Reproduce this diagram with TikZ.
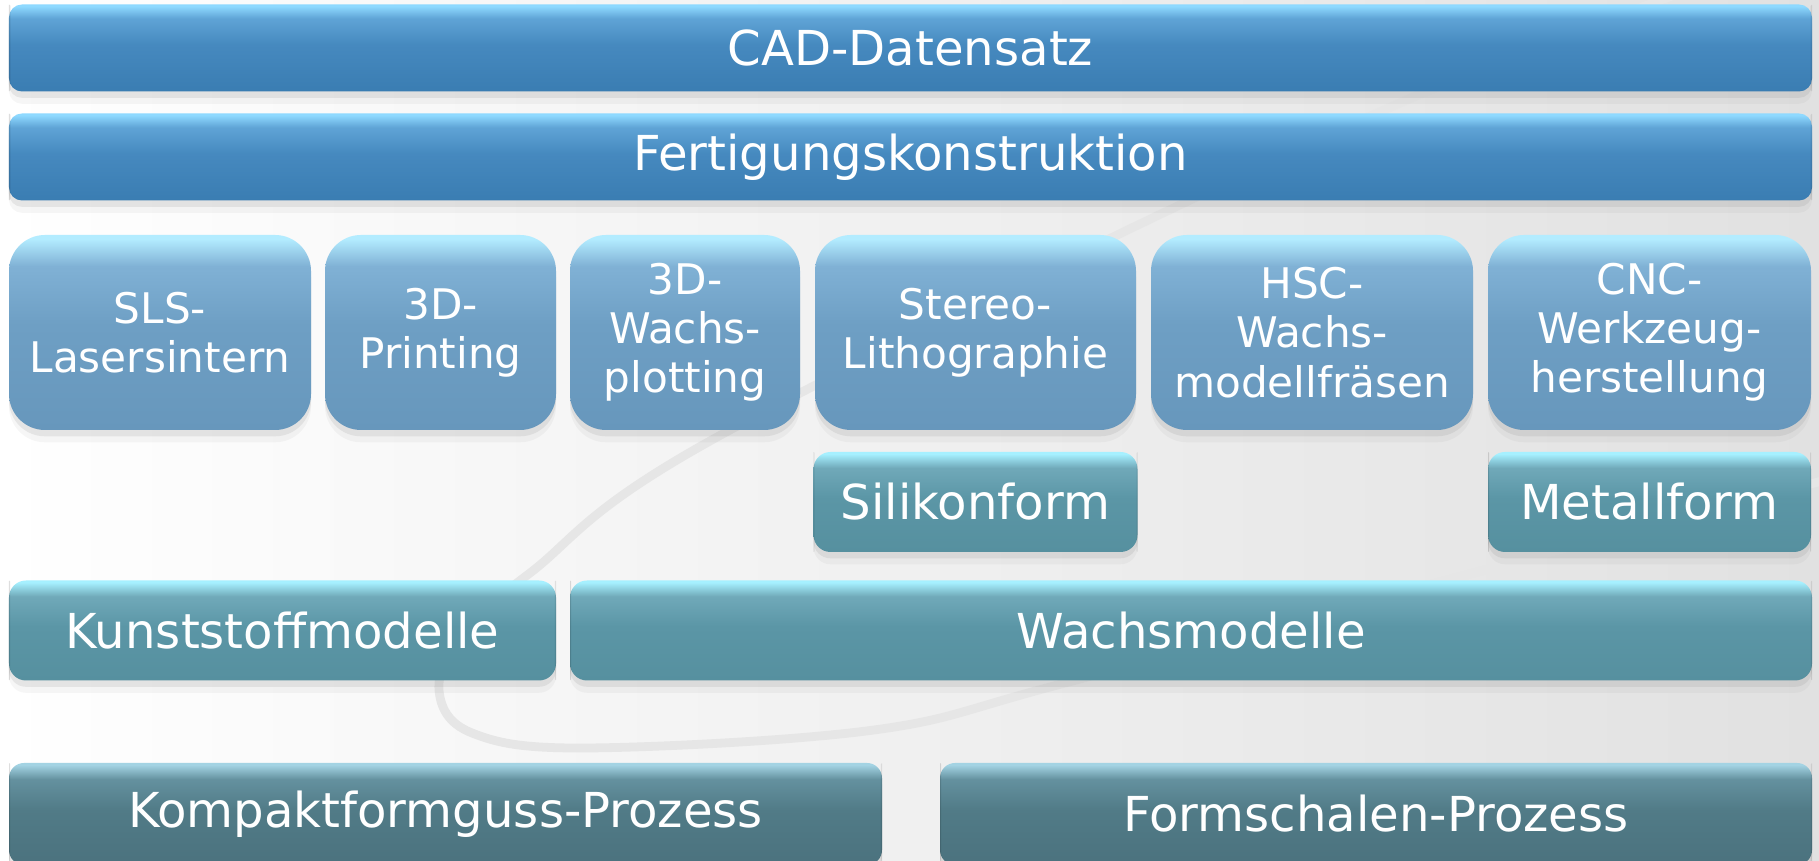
\documentclass[tikz,border=0pt]{standalone}
\usepackage{fontspec}
\setmainfont{DejaVu Sans}
\usetikzlibrary{shadows,positioning}

% colours of the four kinds of boxes (highlight, light, main, dark)
\definecolor{cadhigh}{HTML}{8ED9FF}
\definecolor{cadlight}{HTML}{5FA4D6}
\definecolor{cadmain}{HTML}{4689BF}
\definecolor{caddark}{HTML}{3A7DB2}
\definecolor{prochigh}{HTML}{B3ECFF}
\definecolor{proclight}{HTML}{80B1D5}
\definecolor{procmain}{HTML}{6E9FC4}
\definecolor{procdark}{HTML}{6797BC}
\definecolor{formhigh}{HTML}{A6F0FF}
\definecolor{formlight}{HTML}{70A9B9}
\definecolor{formmain}{HTML}{5B96A6}
\definecolor{formdark}{HTML}{56909F}
\definecolor{slatehigh}{HTML}{A3D3E3}
\definecolor{slatelight}{HTML}{64919F}
\definecolor{slatemain}{HTML}{517B87}
\definecolor{slatedark}{HTML}{4B727E}
\definecolor{backgrey}{HTML}{E1E1E1}
\definecolor{swooshgrey}{HTML}{E6E6E6}

% glossy vertical shading: name, highlight, light, main, dark
\newcommand{\glanz}[5]{%
  \pgfdeclareverticalshading{#1}{100bp}{color(0bp)=(#5); color(25bp)=(#5);
    color(52bp)=(#4); color(67bp)=(#3); color(74bp)=(#2); color(100bp)=(#2)}}
\glanz{cadglanz}{cadhigh}{cadlight}{cadmain}{caddark}
\glanz{procglanz}{prochigh}{proclight}{procmain}{procdark}
\glanz{formglanz}{formhigh}{formlight}{formmain}{formdark}
\glanz{slateglanz}{slatehigh}{slatelight}{slatemain}{slatedark}

\tikzstyle{box}=[shade, text=white, align=center, inner sep=0pt, outer sep=0pt,
  drop shadow={shadow xshift=0pt, shadow yshift=-3.5pt, opacity=0.07},
  drop shadow={shadow xshift=0pt, shadow yshift=-1.8pt, opacity=0.14}]
\tikzstyle{balken}=[box, shading=cadglanz, rounded corners=0.13cm,
  minimum width=18.03cm, minimum height=0.87cm,
  font=\fontsize{13.7}{16}\selectfont]
\tikzstyle{verfahren}=[box, shading=procglanz, rounded corners=0.36cm,
  minimum height=1.95cm, font=\fontsize{12}{14}\selectfont]
\tikzstyle{form}=[box, shading=formglanz, rounded corners=0.17cm,
  minimum height=1.0cm, font=\fontsize{13.7}{16}\selectfont]
\tikzstyle{prozess}=[box, shading=slateglanz, rounded corners=0.15cm,
  minimum height=1.02cm, font=\fontsize{13.7}{16}\selectfont]
\tikzstyle{swoosh}=[line width=2.5pt, draw=swooshgrey, line cap=round]

% darker side faces of a bar: node, depth, corner radius
\newcommand{\bevel}[3]{%
  \fill[black, opacity=0.13] ([yshift=-#3]#1.north west)
    -- ([xshift=0.3*#3, yshift=-0.3*#3]#1.north west)
    -- ([xshift=#2, yshift=-#2]#1.north west)
    -- ([xshift=#2, yshift=#2]#1.south west)
    -- ([xshift=0.3*#3, yshift=0.3*#3]#1.south west)
    -- ([yshift=#3]#1.south west) -- cycle;
  \fill[black, opacity=0.09] ([yshift=-#3]#1.north east)
    -- ([xshift=-0.3*#3, yshift=-0.3*#3]#1.north east)
    -- ([xshift=-#2, yshift=-#2]#1.north east)
    -- ([xshift=-#2, yshift=#2]#1.south east)
    -- ([xshift=-0.3*#3, yshift=0.3*#3]#1.south east)
    -- ([yshift=#3]#1.south east) -- cycle;}

\begin{document}
\begin{tikzpicture}
  \useasboundingbox (0,0) rectangle (18.19,8.61);

  % backdrop with the grey swoosh
  \shade[left color=white, middle color=black!3, right color=backgrey]
    (0,0) rectangle (18.19,8.61);
  \begin{scope}
    \clip (0,0) rectangle (18.19,8.61);
    \draw[swoosh] plot[smooth, tension=0.6] coordinates {(18.6,3.9)
      (14.96,2.94) (10.65,1.78) (8.74,1.31) (5.87,1.13) (4.72,1.28)
      (4.39,1.71) (4.63,2.28) (5.30,2.88) (7.30,4.31) (14.0,7.58) (18.6,9.3)};
  \end{scope}

  % data and construction
  \node[balken] (CAD) at (9.105,8.13) {CAD-Datensatz};
  \node[balken, below=0.22 of CAD] (FERTIGUNG) {Fertigungskonstruktion};

  % manufacturing methods
  \node[verfahren, minimum width=3.02cm] (SLS) at (1.60,5.285) {SLS-\\Lasersintern};
  \node[verfahren, minimum width=2.31cm, right=0.14 of SLS] (PRINTING) {3D-\\Printing};
  \node[verfahren, minimum width=2.30cm, right=0.14 of PRINTING] (PLOTTING) {3D-\\Wachs-\\plotting};
  \node[verfahren, minimum width=3.21cm, right=0.15 of PLOTTING] (STEREO) {Stereo-\\Lithographie};
  \node[verfahren, minimum width=3.22cm, right=0.15 of STEREO] (HSC) {HSC-\\Wachs-\\modellfräsen};
  \node[verfahren, minimum width=3.23cm, right=0.15 of HSC] (CNC) {CNC-\\Werkzeug-\\herstellung};

  % moulds
  \node[form, minimum width=3.24cm, below=0.22 of STEREO] (SILIKON) {Silikonform};
  \node[form, minimum width=3.23cm, below=0.22 of CNC] (METALL) {Metallform};

  % models
  \node[form, minimum width=5.47cm] (KUNSTSTOFF) at (2.825,2.305) {Kunststoffmodelle};
  \node[form, minimum width=12.42cm, right=0.14 of KUNSTSTOFF] (WACHS) {Wachsmodelle};

  % casting processes
  \node[prozess, minimum width=8.73cm] (KOMPAKT) at (4.455,0.47) {Kompaktformguss-Prozess};
  \node[prozess, minimum width=8.72cm, right=0.58 of KOMPAKT] (FORMSCHALEN) {Formschalen-Prozess};

  % side faces
  \bevel{CAD}{0.37}{0.13}
  \bevel{FERTIGUNG}{0.37}{0.13}
  \bevel{SILIKON}{0.28}{0.17}
  \bevel{METALL}{0.28}{0.17}
  \bevel{KUNSTSTOFF}{0.30}{0.17}
  \bevel{WACHS}{0.30}{0.17}
  \bevel{KOMPAKT}{0.32}{0.15}
  \bevel{FORMSCHALEN}{0.32}{0.15}
\end{tikzpicture}
\end{document}
